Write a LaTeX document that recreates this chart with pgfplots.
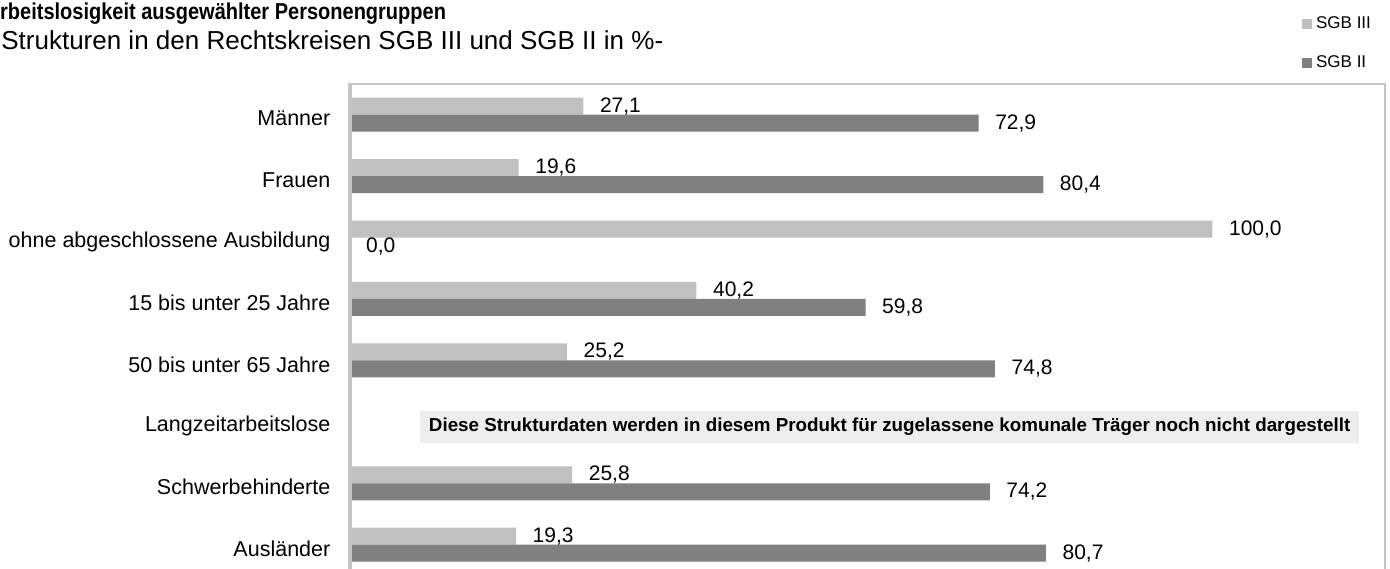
\documentclass[border=0pt]{standalone}
\usepackage{fontspec}
\setmainfont{Liberation Sans}
\newfontfamily\titlefont[FakeStretch=0.87]{Liberation Sans}
\usepackage{pgfplots}
\pgfplotsset{compat=1.18}
\definecolor{sgbiii}{HTML}{C0C0C0}
\definecolor{sgbii}{HTML}{808080}
\definecolor{framegray}{HTML}{C4C4C4}
\definecolor{boxbg}{HTML}{EDEDED}
\begin{document}
\begin{tikzpicture}
\useasboundingbox (0pt,0pt) rectangle (1390pt,569pt);
\clip (0pt,0pt) rectangle (1390pt,569pt);
\node[anchor=base west, inner sep=0pt, font=\titlefont\bfseries\fontsize{23}{26}\selectfont] at (-14.5pt,549pt) {Arbeitslosigkeit ausgewählter Personengruppen};
\node[anchor=base west, inner sep=0pt, font=\fontsize{26}{30}\selectfont] at (-7.5pt,519pt) {-Strukturen in den Rechtskreisen SGB III und SGB II in \%-};
\begin{axis}[
  at={(349.5pt,485pt)}, anchor=north west,
  scale only axis, width=1035.5pt, height=491.4pt,
  xmin=0, xmax=120, ymin=-0.5, ymax=7.5,
  xbar, bar width=17pt,
  axis on top,
  axis line style={draw=framegray, line width=2.5pt},
  xtick=\empty,
  ytick={0,1,2,3,4,5,6,7},
  yticklabels={Ausländer,Schwerbehinderte,Langzeitarbeitslose,50 bis unter 65 Jahre,15 bis unter 25 Jahre,ohne abgeschlossene Ausbildung,Frauen,Männer},
  major tick length=0pt,
  yticklabel style={font=\fontsize{21.5}{25}\selectfont, inner sep=0pt, xshift=-19pt, yshift=-4pt},
  nodes near coords,
  every node near coord/.append style={anchor=west, inner sep=0pt, xshift=16.5pt, font=\fontsize{21}{25}\selectfont, text=black},
  /pgf/number format/.cd, fixed, fixed zerofill, precision=1, use comma, assume math mode=true,
  /pgfplots/.cd,
  legend style={at={(0.9198,1.1384)}, anchor=north west, draw=none, fill=none, inner sep=0pt,
    font=\fontsize{17}{20}\selectfont, row sep=24pt, column sep=4pt,
    nodes={inner sep=0pt, text height=12pt, text depth=3pt}},
  legend cell align=left,
  legend image code/.code={\fill[#1] (0pt,-5pt) rectangle (10pt,5pt);},
]
\addplot[fill=sgbiii, draw=none, bar shift=8.5pt] coordinates {
  (27.1,7) (19.6,6) (100.0,5) (40.2,4) (25.2,3) (25.8,1) (19.3,0)};
\addlegendentry{SGB III}
\addplot[fill=sgbii, draw=none, bar shift=-8.5pt] coordinates {
  (72.9,7) (80.4,6) (0.0,5) (59.8,4) (74.8,3) (74.2,1) (80.7,0)};
\addlegendentry{SGB II}
\draw[framegray, line width=4.5pt] (rel axis cs:0,0) -- (rel axis cs:0,1);
\node[fill=boxbg, inner xsep=9pt, inner ysep=0pt, minimum height=32pt, font=\bfseries\fontsize{18.8}{23}\selectfont] at (axis cs:62.6,2) [yshift=-5pt] {Diese Strukturdaten werden in diesem Produkt für zugelassene komunale Träger noch nicht dargestellt};
\end{axis}
\end{tikzpicture}
\end{document}
